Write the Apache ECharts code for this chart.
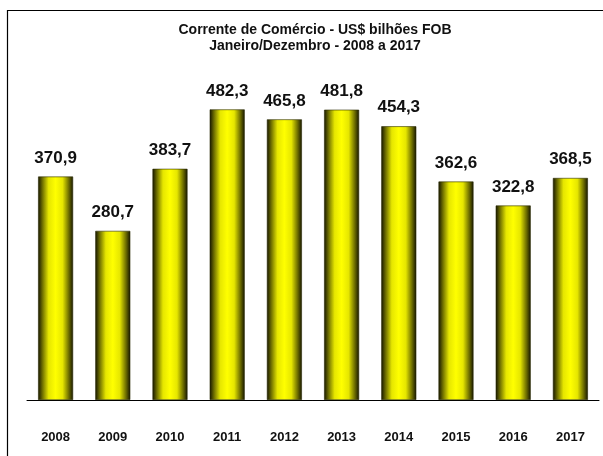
<!DOCTYPE html>
<html>
<head>
<meta charset="utf-8">
<script src="https://cdn.jsdelivr.net/npm/echarts@6/dist/echarts.min.js"></script>
<style>
  html, body { margin: 0; padding: 0; background: #fff; }
  #chart { width: 603px; height: 456px; }
</style>
</head>
<body>
<div id="chart"></div>
<script>
const years = ["2008", "2009", "2010", "2011", "2012", "2013", "2014", "2015", "2016", "2017"];
const values = [370.9, 280.7, 383.7, 482.3, 465.8, 481.8, 454.3, 362.6, 322.8, 368.5];

const font = "'Liberation Sans', Arial, sans-serif";

const chart = echarts.init(document.getElementById("chart"));

const barColor = new echarts.graphic.LinearGradient(0, 0, 1, 0, [
  { offset: 0, color: "#141400" },
  { offset: 0.12, color: "#6b6b00" },
  { offset: 0.3, color: "#e6e600" },
  { offset: 0.5, color: "#ffff00" },
  { offset: 0.7, color: "#e6e600" },
  { offset: 0.88, color: "#6b6b00" },
  { offset: 1, color: "#141400" },
]);

chart.setOption({
  animation: false,
  title: {
    text: "Corrente de Comércio - US$ bilhões FOB\nJaneiro/Dezembro - 2008 a 2017",
    left: 310,
    textAlign: "center",
    top: 17,
    textStyle: {
      fontFamily: font,
      fontSize: 14,
      fontWeight: "bold",
      color: "#111",
      lineHeight: 16,
    },
  },
  graphic: [
    {
      type: "rect",
      shape: { x: 7.5, y: 10.5, width: 620, height: 470 },
      style: { fill: null, stroke: "#000", lineWidth: 1.2 },
      silent: true,
    },
  ],
  grid: { left: 27, right: 4, top: 38.5, bottom: 56 },
  xAxis: {
    type: "category",
    data: years,
    axisTick: { show: false },
    axisLine: { lineStyle: { color: "#000", width: 1 } },
    axisLabel: {
      margin: 31,
      fontFamily: font,
      fontSize: 13,
      fontWeight: "bold",
      color: "#111",
    },
  },
  yAxis: {
    type: "value",
    min: 0,
    max: 600,
    show: false,
  },
  series: [
    {
      type: "bar",
      data: values,
      barWidth: 35,
      itemStyle: {
        color: barColor,
        borderColor: "#2a2a00",
        borderWidth: 0.6,
      },
      label: {
        show: true,
        position: "top",
        distance: 10,
        fontFamily: font,
        fontSize: 17,
        fontWeight: "bold",
        color: "#111",
        formatter: (p) => p.value.toFixed(1).replace(".", ","),
      },
    },
  ],
});
</script>
</body>
</html>
